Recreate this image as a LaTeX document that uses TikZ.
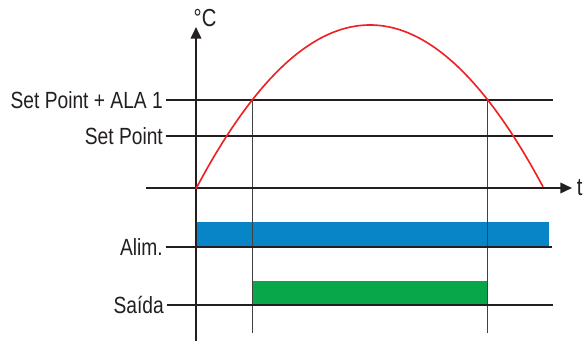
\documentclass[tikz,border=0pt]{standalone}
\usepackage{fontspec}
\setmainfont{Liberation Sans}[FakeStretch=0.82]
\usetikzlibrary{arrows.meta,positioning}
\definecolor{inkBlack}{RGB}{35, 31, 32}
\definecolor{guideGray}{RGB}{65, 65, 65}
\definecolor{curveRed}{RGB}{237, 34, 36}
\definecolor{alimBlue}{RGB}{8, 133, 199}
\definecolor{saidaGreen}{RGB}{8, 168, 74}
\tikzset{
  axisline/.style={draw=inkBlack, line width=1.8pt},
  guideline/.style={draw=guideGray, line width=0.8pt},
  tempcurve/.style={draw=curveRed, line width=1.4pt},
  levellabel/.style={anchor=east, inner xsep=2.5pt, inner ysep=0pt, text=inkBlack,
                     font=\fontsize{20pt}{24pt}\selectfont},
  axislabel/.style={inner sep=0pt, text=inkBlack, font=\fontsize{21pt}{24pt}\selectfont},
  axistip/.style={-{Triangle[length=10pt, width=9pt]}}
}

\begin{document}
\begin{tikzpicture}[x=0.03cm, y=-0.03cm]
  \useasboundingbox (0,0) rectangle (586,342);
  % state bars
  \fill[alimBlue] (196,222) rectangle (549,247);
  \fill[saidaGreen] (252,281) rectangle (487,305);
  % switching instants
  \coordinate (riseTop) at (252,100);
  \coordinate (riseFoot) at (252,333);
  \coordinate (fallTop) at (487,100);
  \coordinate (fallFoot) at (487,333);
  \draw[guideline] (riseTop) -- (riseFoot);
  \draw[guideline] (fallTop) -- (fallFoot);
  % levels
  \node[levellabel] (alaLabel) at (166,100) {Set Point + ALA 1};
  \node[levellabel] (spLabel) at (166,136) {Set Point};
  \node[levellabel] (alimLabel) at (166,247) {Alim.};
  \node[levellabel] (saidaLabel) at (167,305) {Saída};
  \coordinate (alaEnd) at (553,100);
  \coordinate (spEnd) at (553,136);
  \coordinate (alimEnd) at (552,247);
  \coordinate (saidaEnd) at (553,305);
  \draw[axisline] (alaLabel.east) -- (alaEnd);
  \draw[axisline] (spLabel.east) -- (spEnd);
  \draw[axisline] (alimLabel.east) -- (alimEnd);
  \draw[axisline] (saidaLabel.east) -- (saidaEnd);
  % axes
  \coordinate (origin) at (196,188);
  \coordinate (tempTip) at (196,27);
  \coordinate (tempFoot) at (196,341);
  \coordinate (timeFoot) at (146,188);
  \node[axislabel, anchor=west, inner xsep=4pt] (timeLabel) at (572,188) {t};
  \node[axislabel] (unitLabel) at (205,18) {°C};
  \draw[axisline, axistip] (tempFoot) -- (tempTip);
  \draw[axisline, axistip] (timeFoot) -- (timeLabel.west);
  % temperature
  \draw[tempcurve] plot[domain=196:543, samples=120, smooth] (\x, {25+((\x-370)/13.6)^2});
\end{tikzpicture}
\end{document}
